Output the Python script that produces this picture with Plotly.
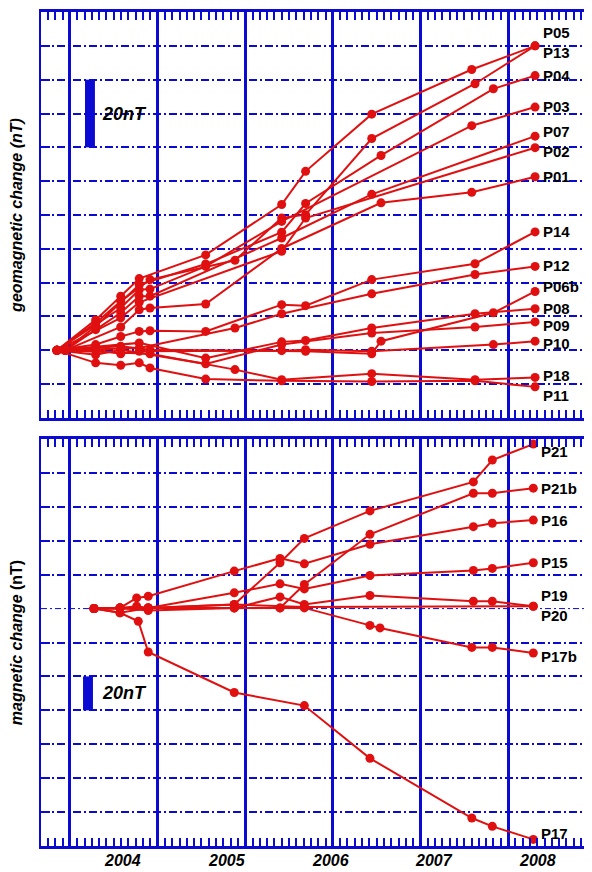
import plotly.graph_objects as go

# ---------------- data ----------------
# survey epochs (decimal years), upper panel
T0A, T0B = 2003.362, 2003.440
T1, T2, T3, T4 = 2003.736, 2003.978, 2004.157, 2004.261
T5, T6, T7, T8 = 2004.799, 2005.082, 2005.533, 2005.764
T9, T10 = 2006.403, 2006.493
T11, T11B, T12, T13 = 2007.369, 2007.401, 2007.578, 2007.981

TOP_NAMES = ["P05", "P13", "P04", "P03", "P07", "P02", "P01", "P14",
             "P12", "P06b", "P08", "P09", "P10", "P18", "P11"]
TOP_X = [
    [T0A, T1, T2, T3, T5, T7, T8, T9, T11, T13],
    [T0A, T1, T2, T4, T6, T7, T8, T9, T11B, T13],
    [T0B, T1, T3, T5, T7, T8, T10, T12, T13],
    [T0A, T2, T3, T4, T5, T7, T11, T13],
    [T0B, T1, T2, T3, T4, T7, T9, T13],
    [T0A, T2, T3, T7, T8, T13],
    [T0B, T2, T3, T4, T5, T7, T10, T11, T13],
    [T0A, T1, T2, T3, T4, T5, T7, T8, T9, T11B, T13],
    [T0B, T3, T6, T7, T9, T11B, T13],
    [T0A, T2, T4, T8, T9, T10, T12, T13],
    [T0A, T3, T5, T7, T8, T9, T11B, T13],
    [T0A, T1, T2, T5, T7, T9, T11B, T13],
    [T0B, T1, T2, T3, T7, T8, T9, T12, T13],
    [T0A, T4, T6, T7, T9, T11B, T13],
    [T0A, T1, T2, T3, T4, T5, T7, T9, T11B, T13],
]
TOP_Y = [
    [0, 9.0, 16.0, 21.2, 28.2, 43.1, 52.9, 69.8, 83.0, 90.0],
    [0, 8.1, 14.5, 20.9, 26.6, 39.1, 40.1, 62.6, 78.8, 90.0],
    [0, 7.1, 19.4, 25.5, 34.9, 43.4, 57.6, 77.3, 81.2],
    [0, 12.5, 17.9, 18.1, 24.8, 38.1, 66.4, 71.9],
    [0, 6.1, 11.1, 16.0, 16.0, 33.2, 46.1, 63.3],
    [0, 9.6, 14.2, 29.3, 39.1, 59.9],
    [0, 6.9, 12.0, 12.5, 13.7, 30.1, 43.6, 46.7, 51.3],
    [0, 1.7, 4.1, 5.6, 5.8, 5.6, 13.5, 13.2, 20.9, 25.6, 35.0],
    [0, 0.7, 6.6, 10.8, 16.7, 22.4, 24.8],
    [0, 1.2, 0.2, -0.3, -1.0, 2.7, 11.1, 17.4],
    [0, 2.2, -2.3, 2.5, 2.9, 6.6, 10.8, 12.3],
    [0, -1.3, 0.2, -4.0, 1.7, 5.1, 6.9, 8.4],
    [0, 0.2, -1.0, -0.3, -0.1, 0.2, -0.3, 1.7, 2.7],
    [0, -1.0, -5.7, -8.7, -6.9, -8.7, -8.0],
    [0, -3.7, -4.4, -3.7, -5.2, -8.5, -9.0, -9.2, -9.0, -10.8],
]
TOP_LABEL_Y = [93.9, 88.0, 81.2, 72.0, 64.7, 58.7, 51.4, 35.1,
               25.0, 18.8, 12.3, 7.3, 2.0, -7.5, -13.4]

# survey epochs (decimal years), lower panel
B0, B1, B2, B2B, B3 = 2003.720, 2003.971, 2004.132, 2004.148, 2004.244
B4, B5, B6, B7, B7B = 2005.075, 2005.517, 2005.752, 2006.386, 2006.483
B8, B8B, B9, B10 = 2007.385, 2007.370, 2007.568, 2007.964

BOT_NAMES = ["P21", "P21b", "P16", "P15", "P19", "P20", "P17b", "P17"]
BOT_X = [
    [B0, B1, B3, B4, B5, B6, B7, B8, B9, B10],
    [B0, B1, B3, B4, B5, B6, B7, B8, B9, B10],
    [B0, B1, B2, B3, B4, B5, B6, B7, B8, B9, B10],
    [B0, B1, B2, B3, B4, B5, B6, B7, B8, B9, B10],
    [B0, B1, B3, B4, B5, B6, B7, B8, B9, B10],
    [B0, B1, B3, B4, B6, B10],
    [B0, B1, B3, B4, B5, B6, B7, B7B, B8B, B9, B10],
    [B0, B1, B2B, B3, B4, B6, B7, B8B, B9, B10],
]
BOT_Y = [
    [0, 0.4, 0.4, 2.4, 27.0, 41.4, 57.6, 74.7, 87.6, 97.0],
    [0, -2.5, 0.4, 0.4, 0.4, 14.2, 43.8, 68.0, 68.0, 71.0],
    [0, 0.4, 6.3, 7.3, 22.1, 29.6, 26.4, 37.9, 48.3, 50.3, 52.2],
    [0, 0.4, 1.4, 0.4, 9.3, 14.6, 11.6, 19.5, 22.5, 23.7, 27.0],
    [0, 0.4, -1.2, 0.4, 6.9, 2.4, 7.7, 4.3, 4.3, 1.4],
    [0, 0.4, 0.4, 2.4, 1.0, 1.4],
    [0, 0.4, 0.4, 0.4, 0.4, 0.4, -9.9, -11.4, -22.9, -22.9, -26.2],
    [0, -2.5, -7.5, -25.6, -49.5, -57.2, -88.3, -123.5, -128.4, -136.1],
]
BOT_LABEL_Y = [92.7, 70.8, 52.1, 27.0, 7.9, -4.1, -28.2, -132.4]

YEAR_TICKS = [2004, 2005, 2006, 2007, 2008]
TOP_YTICKS = [-10, 0, 10, 20, 30, 40, 50, 60, 70, 80, 90]
BOT_YTICKS = [-120, -100, -80, -60, -40, -20, 20, 40, 60, 80]

# ---------------- style ----------------
RED = "#e01010"
BLUE = "#0a0ad2"
FONT = "Liberation Sans"
X_RANGE = [2003.208, 2008.531]
GRID_X0 = 2003.488          # first heavy vertical rule
GRID_STEP = 0.8464          # spacing of heavy vertical rules
GRID_DASH = "8px,3px,2px,3px"

fig = go.Figure()

def add_series(xs, ys, xa, ya):
    fig.add_trace(go.Scatter(
        x=xs, y=ys, xaxis=xa, yaxis=ya, mode="lines+markers",
        line=dict(color=RED, width=2),
        marker=dict(color=RED, size=9),
        showlegend=False, hoverinfo="skip"))

for xs, ys in zip(TOP_X, TOP_Y):
    add_series(xs, ys, "x2", "y2")
for xs, ys in zip(BOT_X, BOT_Y):
    add_series(xs, ys, "x", "y")

label_font = dict(family=FONT, size=15, color="black", weight="bold")
for name, xs, ly in zip(TOP_NAMES, TOP_X, TOP_LABEL_Y):
    fig.add_annotation(x=xs[-1], y=ly, xref="x2", yref="y2", text=name,
                       showarrow=False, xanchor="left", yanchor="middle",
                       xshift=6, font=label_font)
for name, xs, ly in zip(BOT_NAMES, BOT_X, BOT_LABEL_Y):
    fig.add_annotation(x=xs[-1], y=ly, xref="x", yref="y", text=name,
                       showarrow=False, xanchor="left", yanchor="middle",
                       xshift=6, font=label_font)

# year labels under the lower panel
year_font = dict(family=FONT, size=16, color="black", weight="bold", style="italic")
for yr in YEAR_TICKS:
    fig.add_annotation(x=yr, y=-0.0168, xref="x", yref="paper", text=str(yr),
                       showarrow=False, xanchor="center", yanchor="middle",
                       font=year_font)

# scale bars
scale_font = dict(family=FONT, size=18, color="black", weight="bold", style="italic")
fig.add_shape(type="rect", xref="x2", yref="y2", x0=2003.633, x1=2003.729,
              y0=60, y1=80, fillcolor=BLUE, line=dict(width=0))
fig.add_annotation(x=2003.775, y=70, xref="x2", yref="y2", text="20nT",
                   showarrow=False, xanchor="left", font=scale_font)
fig.add_shape(type="rect", xref="x", yref="y", x0=2003.614, x1=2003.710,
              y0=-60, y1=-40, fillcolor=BLUE, line=dict(width=0))
fig.add_annotation(x=2003.775, y=-50, xref="x", yref="y", text="20nT",
                   showarrow=False, xanchor="left", font=scale_font)

# thin zero reference line in lower panel
fig.add_shape(type="line", xref="x", yref="y", x0=X_RANGE[0], x1=X_RANGE[1],
              y0=0, y1=0, line=dict(color=BLUE, width=1, dash="6px,3px,2px,3px"),
              layer="below")

title_font = dict(family=FONT, size=16, color="black", weight="bold")

common_x = dict(range=X_RANGE, zeroline=False,
                showline=True, linecolor=BLUE, linewidth=3, mirror="allticks",
                showgrid=True, gridcolor=BLUE, gridwidth=3,
                tickmode="linear", tick0=GRID_X0, dtick=GRID_STEP,
                ticks="inside", ticklen=8, tickwidth=2, tickcolor=BLUE,
                showticklabels=False,
                minor=dict(tick0=GRID_X0, dtick=GRID_STEP / 12, ticks="inside",
                           ticklen=8, tickwidth=2, tickcolor=BLUE, showgrid=False))
common_y = dict(showgrid=True, gridcolor=BLUE, gridwidth=2, griddash=GRID_DASH,
                zeroline=False, showline=True, linecolor=BLUE, linewidth=2,
                mirror=False, ticks="inside", ticklen=9, tickwidth=2,
                tickcolor=BLUE, showticklabels=False, tickmode="array")

# the page adds an 8px body margin, so the figure is sized to end at the window edge
fig.update_layout(
    width=584, height=864,
    margin=dict(l=33, r=0, t=4, b=26),
    paper_bgcolor="white", plot_bgcolor="white",
    xaxis=dict(**common_x, anchor="y"),
    xaxis2=dict(**common_x, anchor="y2", matches="x"),
    yaxis=dict(**common_y, domain=[0, 0.488], range=[-140, 100],
               tickvals=BOT_YTICKS,
               title=dict(text="<i>magnetic change</i> (nT)", font=title_font,
                          standoff=22)),
    yaxis2=dict(**common_y, domain=[0.5132, 1], range=[-20, 100],
                tickvals=TOP_YTICKS,
                title=dict(text="<i>geomagnetic change (nT)</i>", font=title_font,
                           standoff=22)),
)

fig.write_html("out.html")
